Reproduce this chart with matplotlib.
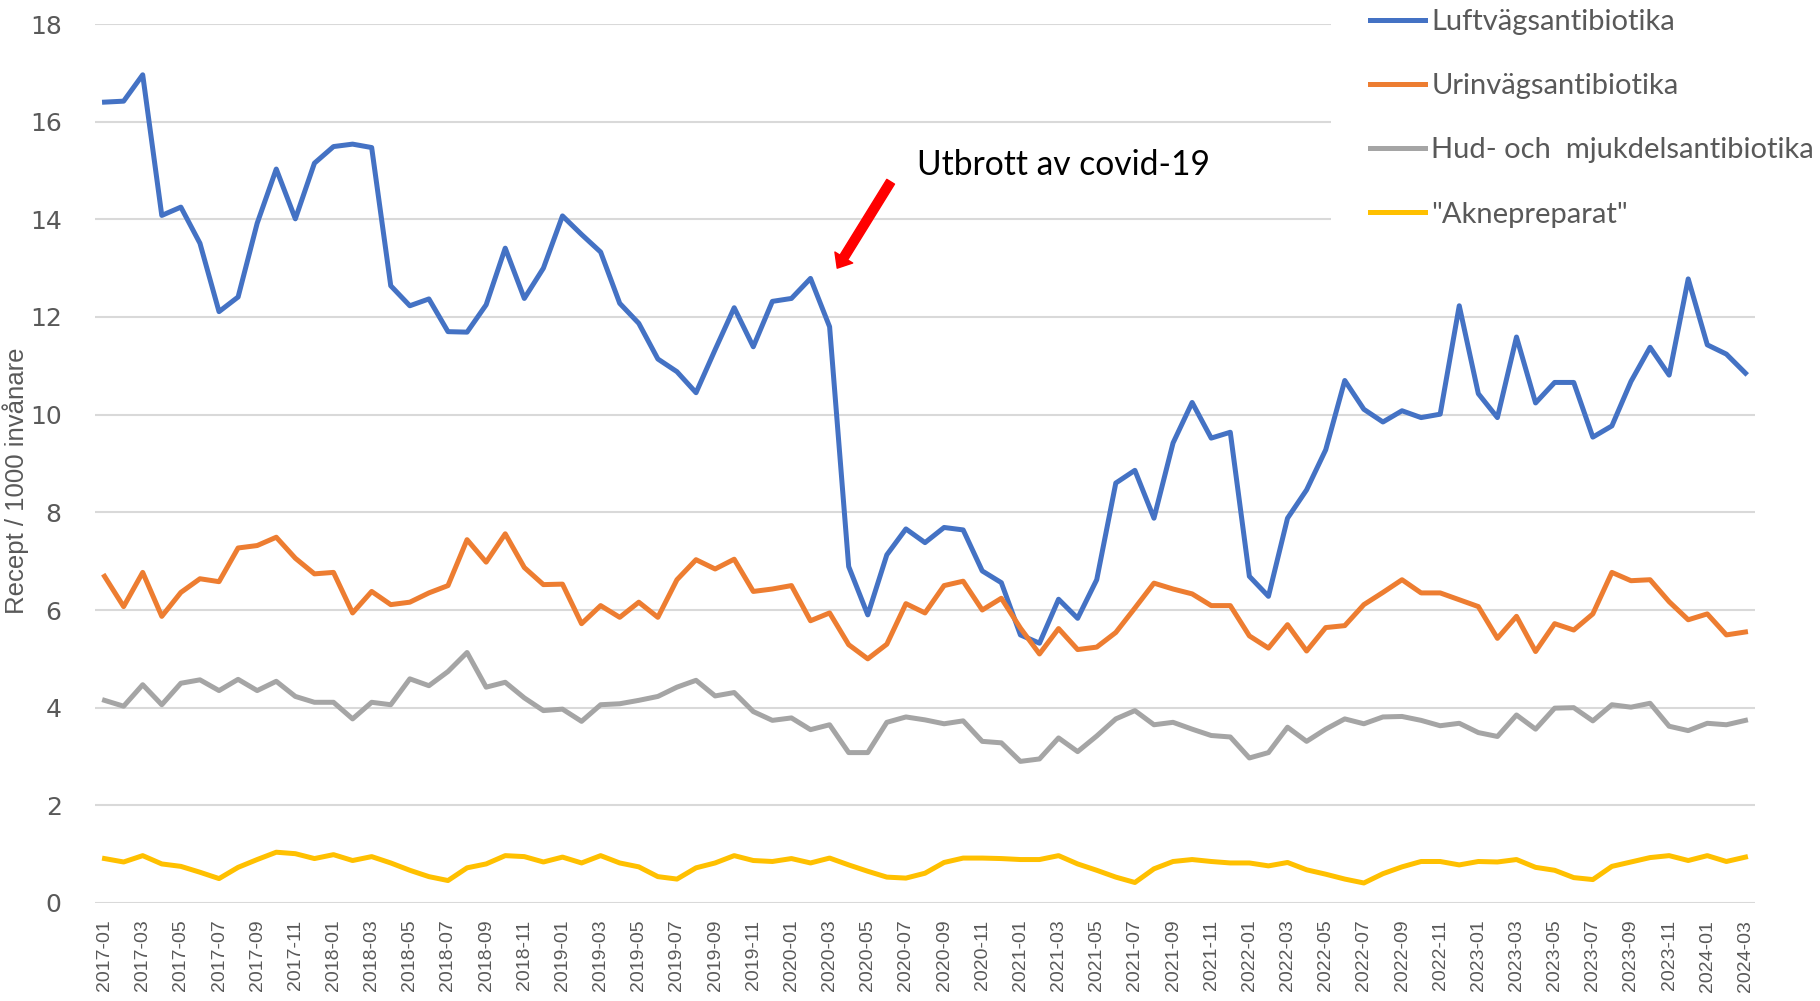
import matplotlib
matplotlib.use("Agg")
import matplotlib.pyplot as plt
from matplotlib.patches import Rectangle
import pandas as pd

# månadsdata 2017-01 .. 2024-03, recept per 1000 invånare
months = pd.period_range("2017-01", "2024-03", freq="M").strftime("%Y-%m").tolist()

luftvag = [16.40, 16.42, 16.96, 14.08, 14.25, 13.51, 12.11, 12.41, 13.92, 15.03,
           14.01, 15.15, 15.49, 15.54, 15.47, 12.64, 12.23, 12.37, 11.70, 11.69,
           12.25, 13.41, 12.38, 13.00, 14.07, 13.69, 13.33, 12.28, 11.87, 11.14,
           10.88, 10.45, 11.33, 12.19, 11.39, 12.32, 12.38, 12.79, 11.80, 6.89,
           5.90, 7.13, 7.66, 7.38, 7.69, 7.64, 6.80, 6.56, 5.49, 5.32,
           6.22, 5.83, 6.62, 8.60, 8.86, 7.88, 9.42, 10.25, 9.52, 9.64,
           6.69, 6.28, 7.88, 8.46, 9.28, 10.70, 10.11, 9.85, 10.08, 9.94,
           10.01, 12.23, 10.43, 9.94, 11.59, 10.24, 10.66, 10.66, 9.54, 9.77,
           10.68, 11.38, 10.81, 12.78, 11.43, 11.24, 10.85]

urinvag = [6.69, 6.07, 6.77, 5.87, 6.36, 6.64, 6.58, 7.27, 7.32, 7.49,
           7.06, 6.74, 6.77, 5.94, 6.38, 6.11, 6.16, 6.35, 6.50, 7.44,
           6.98, 7.56, 6.87, 6.52, 6.53, 5.72, 6.09, 5.85, 6.16, 5.85,
           6.62, 7.03, 6.84, 7.04, 6.38, 6.43, 6.50, 5.78, 5.94, 5.29,
           5.00, 5.30, 6.13, 5.94, 6.50, 6.59, 6.00, 6.24, 5.63, 5.10,
           5.62, 5.19, 5.24, 5.54, 6.04, 6.55, 6.43, 6.33, 6.09, 6.09,
           5.47, 5.22, 5.70, 5.16, 5.64, 5.68, 6.11, 6.36, 6.62, 6.35,
           6.35, 6.21, 6.07, 5.42, 5.87, 5.15, 5.72, 5.59, 5.92, 6.77,
           6.60, 6.62, 6.17, 5.80, 5.92, 5.49, 5.55]

hud = [4.15, 4.03, 4.47, 4.06, 4.50, 4.57, 4.35, 4.58, 4.35, 4.54,
       4.23, 4.11, 4.11, 3.77, 4.11, 4.06, 4.59, 4.45, 4.74, 5.13,
       4.42, 4.52, 4.20, 3.94, 3.97, 3.72, 4.06, 4.08, 4.15, 4.23,
       4.42, 4.56, 4.24, 4.31, 3.92, 3.74, 3.79, 3.55, 3.65, 3.08,
       3.08, 3.70, 3.81, 3.75, 3.67, 3.73, 3.31, 3.28, 2.90, 2.95,
       3.38, 3.10, 3.42, 3.77, 3.94, 3.65, 3.70, 3.56, 3.43, 3.40,
       2.97, 3.08, 3.60, 3.31, 3.56, 3.77, 3.67, 3.81, 3.82, 3.74,
       3.63, 3.68, 3.49, 3.41, 3.85, 3.56, 3.99, 4.00, 3.73, 4.06,
       4.01, 4.09, 3.62, 3.53, 3.68, 3.65, 3.74]

akne = [0.91, 0.84, 0.97, 0.80, 0.75, 0.63, 0.50, 0.73, 0.89, 1.04,
        1.01, 0.91, 0.99, 0.87, 0.95, 0.82, 0.67, 0.54, 0.46, 0.72,
        0.80, 0.97, 0.95, 0.84, 0.94, 0.82, 0.97, 0.82, 0.74, 0.54,
        0.49, 0.72, 0.82, 0.97, 0.87, 0.85, 0.91, 0.82, 0.92, 0.78,
        0.65, 0.53, 0.51, 0.61, 0.83, 0.92, 0.92, 0.91, 0.89, 0.89,
        0.97, 0.80, 0.67, 0.53, 0.42, 0.70, 0.85, 0.89, 0.85, 0.82,
        0.82, 0.76, 0.83, 0.68, 0.59, 0.49, 0.41, 0.60, 0.74, 0.85,
        0.85, 0.78, 0.85, 0.84, 0.89, 0.73, 0.67, 0.52, 0.48, 0.75,
        0.84, 0.93, 0.97, 0.87, 0.97, 0.85, 0.94]

series = [
    ("Luftvägsantibiotika", luftvag, "#4472C4"),
    ("Urinvägsantibiotika", urinvag, "#ED7D31"),
    ("Hud- och  mjukdelsantibiotika", hud, "#A5A5A5"),
    ('"Aknepreparat"', akne, "#FFC000"),
]

fig = plt.figure(figsize=(18.2, 10.01), dpi=100)
ax = fig.add_axes([95/1820, 1 - 903/1001, 1660/1820, 879/1001])

x = list(range(len(months)))
for name, vals, col in series:
    ax.plot(x, vals, color=col, lw=3.6, label=name, zorder=3)

ax.set_xlim(-0.5, len(months) - 0.5)
ax.set_ylim(0, 18)
ax.set_yticks(range(0, 19, 2))
ax.set_xticks(x[::2])
ax.set_xticklabels(months[::2], rotation=90, fontsize=14, color="#595959",
                   family="Liberation Sans")
ax.tick_params(axis="y", labelsize=18, colors="#595959", length=0, pad=24)
ax.tick_params(axis="x", length=0, pad=12)
ax.grid(axis="y", color="#d9d9d9", lw=1.5)
ax.set_axisbelow(True)
for s in ax.spines.values():
    s.set_visible(False)

ax.set_ylabel("Recept / 1000 invånare", fontsize=18.5, color="#595959",
              family="Liberation Sans")
ax.yaxis.set_label_coords(-0.0395, 0.48)

# vit yta bakom förklaringen (täcker stödlinjerna)
ax.add_patch(Rectangle((0.7446, 0.7315), 0.4, 0.4, transform=ax.transAxes,
                       facecolor="white", edgecolor="none", zorder=1, clip_on=False))

ax.annotate("", xy=(38.4, 13.0), xytext=(41.2, 14.77),
            arrowprops=dict(facecolor="red", edgecolor="red", width=6.5,
                            headwidth=15, headlength=9), zorder=4)
ax.text(42.6, 15.12, "Utbrott av covid-19", fontsize=24.2, family="Lato",
        va="center", ha="left", color="black")

fig.legend(loc="upper left", bbox_to_anchor=(1370/1820, 0.991), frameon=False,
           borderpad=0, borderaxespad=0, labelcolor="#595959",
           handlelength=1.9, handletextpad=0.2, labelspacing=1.31,
           prop={"family": "Lato", "size": 21})

fig.savefig("out.png", dpi=100)
